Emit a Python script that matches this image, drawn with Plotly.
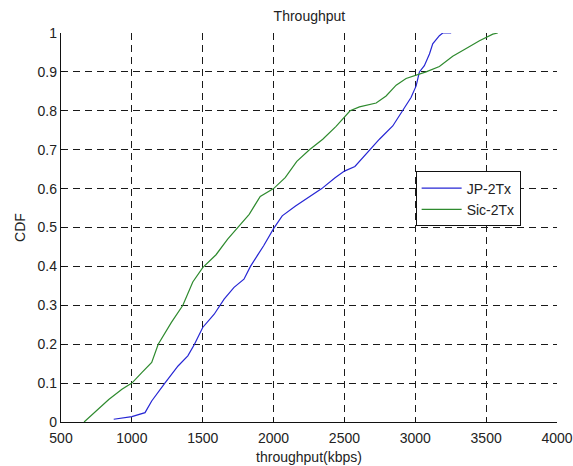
import plotly.graph_objects as go

# ---- data ----
jp_x = [872, 1000, 1093, 1140, 1233, 1326, 1395, 1442, 1500, 1581, 1651, 1721, 1791, 1837,
        1884, 1930, 2000, 2061, 2155, 2246, 2340, 2434, 2500, 2574, 2653, 2747, 2841, 2912,
        2970, 3006, 3029, 3064, 3100, 3123, 3170, 3194, 3253]
jp_y = [0.007, 0.014, 0.024, 0.054, 0.10, 0.144, 0.17, 0.20, 0.243, 0.277, 0.316, 0.346,
        0.367, 0.40, 0.427, 0.453, 0.497, 0.53, 0.555, 0.577, 0.60, 0.628, 0.645, 0.657,
        0.688, 0.727, 0.761, 0.80, 0.834, 0.864, 0.90, 0.916, 0.946, 0.972, 0.993, 1.0, 1.0]

sic_x = [663, 744, 837, 930, 1000, 1070, 1140, 1186, 1279, 1360, 1430, 1500, 1594, 1676,
         1746, 1828, 1906, 2000, 2082, 2164, 2253, 2347, 2441, 2500, 2540, 2606, 2724, 2794,
         2865, 2935, 3000, 3076, 3170, 3264, 3359, 3453, 3547, 3582]
sic_y = [0.0, 0.028, 0.058, 0.084, 0.10, 0.127, 0.153, 0.20, 0.256, 0.30, 0.36, 0.397,
         0.43, 0.47, 0.50, 0.534, 0.58, 0.60, 0.628, 0.67, 0.70, 0.727, 0.76, 0.783, 0.80,
         0.81, 0.82, 0.838, 0.866, 0.883, 0.89, 0.90, 0.914, 0.94, 0.96, 0.98, 0.997, 1.0]

series_names = ["JP-2Tx", "Sic-2Tx"]
series_colors = ["#2626d4", "#2e8a2e"]
x_range = [500, 4000]
y_range = [0, 1]
title_text = "Throughput"
x_title = "throughput(kbps)"
y_title = "CDF"

FONT = "Liberation Sans, Arial, sans-serif"
TXT = "#222222"

fig = go.Figure()
fig.add_trace(go.Scatter(x=jp_x, y=jp_y, mode="lines", name=series_names[0],
                         line=dict(color=series_colors[0], width=1.2)))
fig.add_trace(go.Scatter(x=sic_x, y=sic_y, mode="lines", name=series_names[1],
                         line=dict(color=series_colors[1], width=1.2)))

axis_common = dict(
    showgrid=True, gridcolor="#1a1a1a", gridwidth=1, griddash="7px,5px",
    showline=True, linecolor="#111111", linewidth=1.3, mirror=False,
    ticks="inside", ticklen=4, tickcolor="#111111", automargin=False,
    zeroline=False, tickfont=dict(family=FONT, size=14, color=TXT),
)

fig.update_layout(
    width=573, height=466,
    margin=dict(l=61, r=16, t=33, b=44),
    paper_bgcolor="white", plot_bgcolor="white",
    title=dict(text=title_text, x=0.54, xanchor="center", y=1 - 16 / 466, yanchor="middle",
               yref="container", font=dict(family=FONT, size=14, color=TXT)),
    xaxis=dict(range=x_range, dtick=500, tick0=500, ticklabelstandoff=3,
               title=dict(text=x_title, standoff=7, font=dict(family=FONT, size=14, color=TXT)),
               **axis_common),
    yaxis=dict(range=y_range, dtick=0.1, tick0=0,
               title=dict(text=y_title, standoff=8, font=dict(family=FONT, size=14, color=TXT)),
               **axis_common),
    legend=dict(x=0.715, y=0.644, xanchor="left", yanchor="top",
                bgcolor="white", bordercolor="#111111", borderwidth=1,
                font=dict(family=FONT, size=14, color=TXT),
                itemwidth=40, tracegroupgap=0),
    showlegend=True,
)

fig.write_html("out.html")
